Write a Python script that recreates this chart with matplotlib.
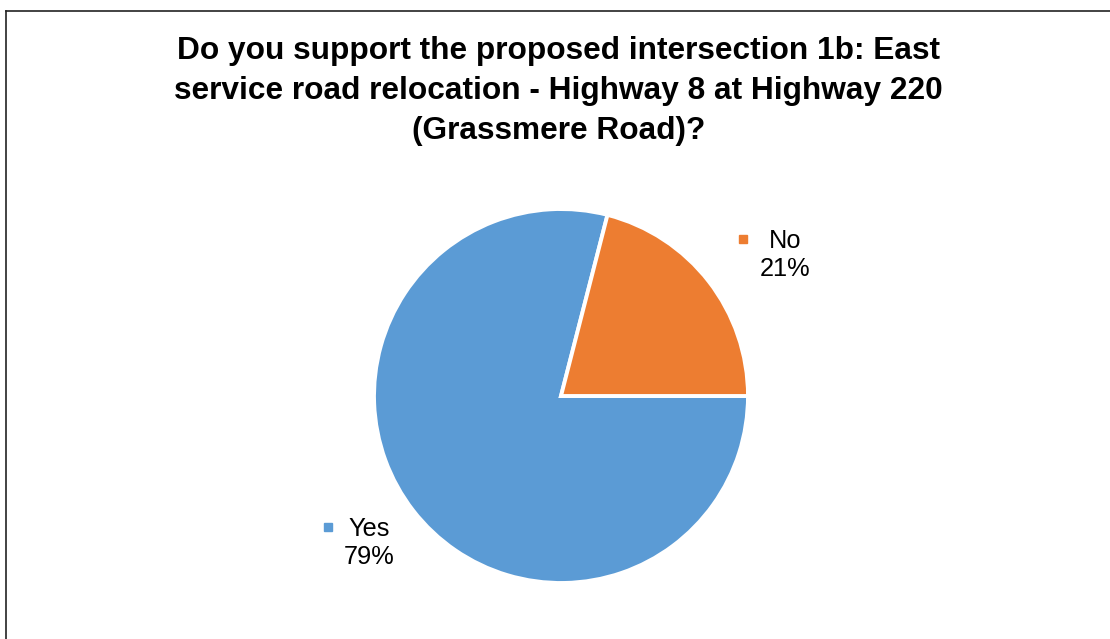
import matplotlib.pyplot as plt
from matplotlib.lines import Line2D

plt.rcParams['font.family'] = ['Liberation Sans', 'DejaVu Sans']

# survey answers
labels = ['Yes', 'No']
shares = [79, 21]
colors = ['#5B9BD5', '#ED7D31']

W, H = 1110, 639
fig = plt.figure(figsize=(W / 100, H / 100), dpi=100)

def fx(px):
    return px / W

def fy(py):
    return 1 - py / H

# chart border (runs off the right and bottom edges)
fig.add_artist(Line2D([fx(6), fx(6)], [fy(11), 0], color='#222222', lw=1.2))
fig.add_artist(Line2D([fx(6), 1], [fy(11), fy(11)], color='#222222', lw=1.2))

fig.text(0.503, fy(91), 'Do you support the proposed intersection 1b: East\n'
         'service road relocation - Highway 8 at Highway 220\n(Grassmere Road)?',
         ha='center', va='center', fontsize=22.8, fontweight='bold',
         linespacing=1.44)

# pie
cx, cy, r = 561, 396, 187
ax = fig.add_axes([fx(cx - r), fy(cy + r), 2 * r / W, 2 * r / H])
ax.pie(shares, colors=colors, startangle=360 * shares[1] / 100, counterclock=True,
       wedgeprops=dict(edgecolor='white', linewidth=2.8))
ax.set_xlim(-1, 1)
ax.set_ylim(-1, 1)
ax.set_aspect('equal')
ax.axis('off')

# data labels with legend keys
label_pos = {'Yes': (369, 527, 328), 'No': (785, 239, 743)}
for name, val, col in zip(labels, shares, colors):
    tx, ty, mx = label_pos[name]
    fig.text(fx(tx), fy(ty + 16), f'{name}\n{val}%', ha='center', va='center',
             fontsize=18.3, linespacing=1.22)
    fig.add_artist(Line2D([fx(mx)], [fy(ty)], marker='s', markersize=6,
                          color=col, linestyle='none'))

fig.savefig('out.png', dpi=100)
